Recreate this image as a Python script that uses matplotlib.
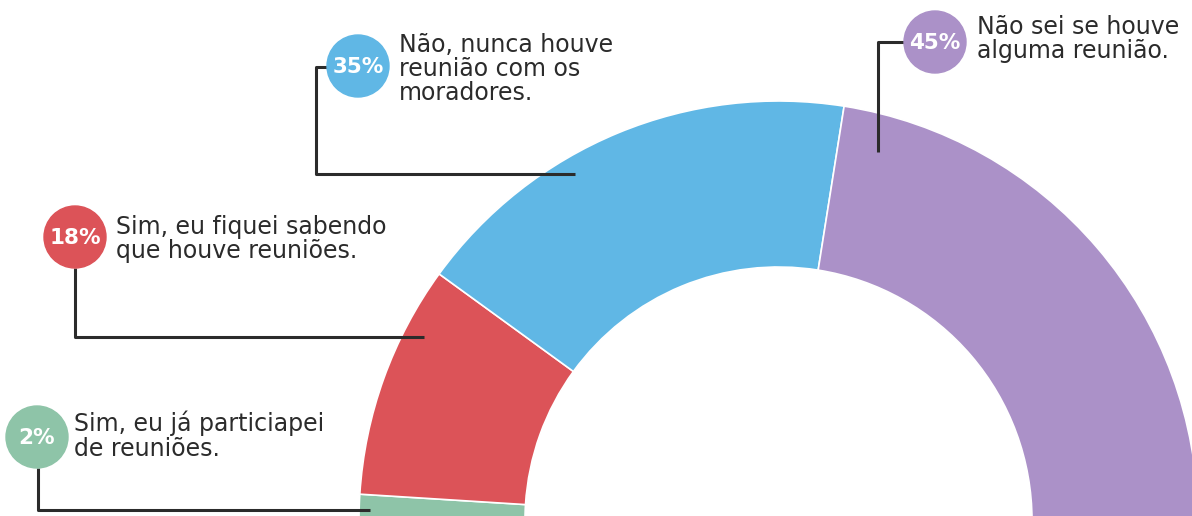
import matplotlib
matplotlib.use('Agg')
import matplotlib.pyplot as plt
from matplotlib.patches import Circle

# Dados do gráfico
percentuais = [2, 18, 35, 45]
rotulos = [
    "Sim, eu já particiapei\nde reuniões.",
    "Sim, eu fiquei sabendo\nque houve reuniões.",
    "Não, nunca houve\nreunião com os\nmoradores.",
    "Não sei se houve\nalguma reunião.",
]
cores = ['#8ec4a8', '#dc5358', '#60b7e5', '#ab91c8']

# Posições dos marcadores (círculo, texto e linha guia), em pixels da imagem
circulos = [(37, 437), (75, 237), (358, 66), (935, 42)]
textos = [(74, 411), (116, 215), (399, 33), (977, 15)]
guias = [
    ([38, 38, 370], [468, 510, 510]),
    ([75, 75, 424], [268, 337, 337]),
    ([330, 316, 316, 575], [67, 67, 174, 174]),
    ([905, 878, 878], [42, 42, 152]),
]

fig = plt.figure(figsize=(11.92, 5.16), dpi=100)
ax = fig.add_axes([0, 0, 1, 1])

# Meia rosca: adiciona uma fatia invisível com o total
valores = percentuais + [sum(percentuais)]
wedges, _ = ax.pie(valores, colors=cores + ['none'], startangle=180, counterclock=True,
                   center=(778.5, 520.5), radius=419.5,
                   wedgeprops=dict(width=166, edgecolor='white', linewidth=1.2))
wedges[-1].set_visible(False)

for (xs, ys) in guias:
    ax.plot(xs, ys, color='#2b2b2b', lw=2.2, solid_capstyle='butt', zorder=3)

for pct, cor, (cx, cy), (tx, ty), rot in zip(percentuais, cores, circulos, textos, rotulos):
    ax.add_patch(Circle((cx, cy), 31, color=cor, zorder=4))
    ax.text(cx, cy + 1, f"{pct}%", color='white', fontsize=15.5, fontweight='heavy',
            ha='center', va='center', zorder=5)
    ax.text(tx, ty, rot, color='#2b2b2b', fontsize=17, ha='left', va='top',
            linespacing=1.0, zorder=5)

ax.set_xlim(0, 1192)
ax.set_ylim(516, 0)
ax.set_aspect('equal')
ax.axis('off')

fig.savefig('out.png', dpi=100, facecolor='white')
